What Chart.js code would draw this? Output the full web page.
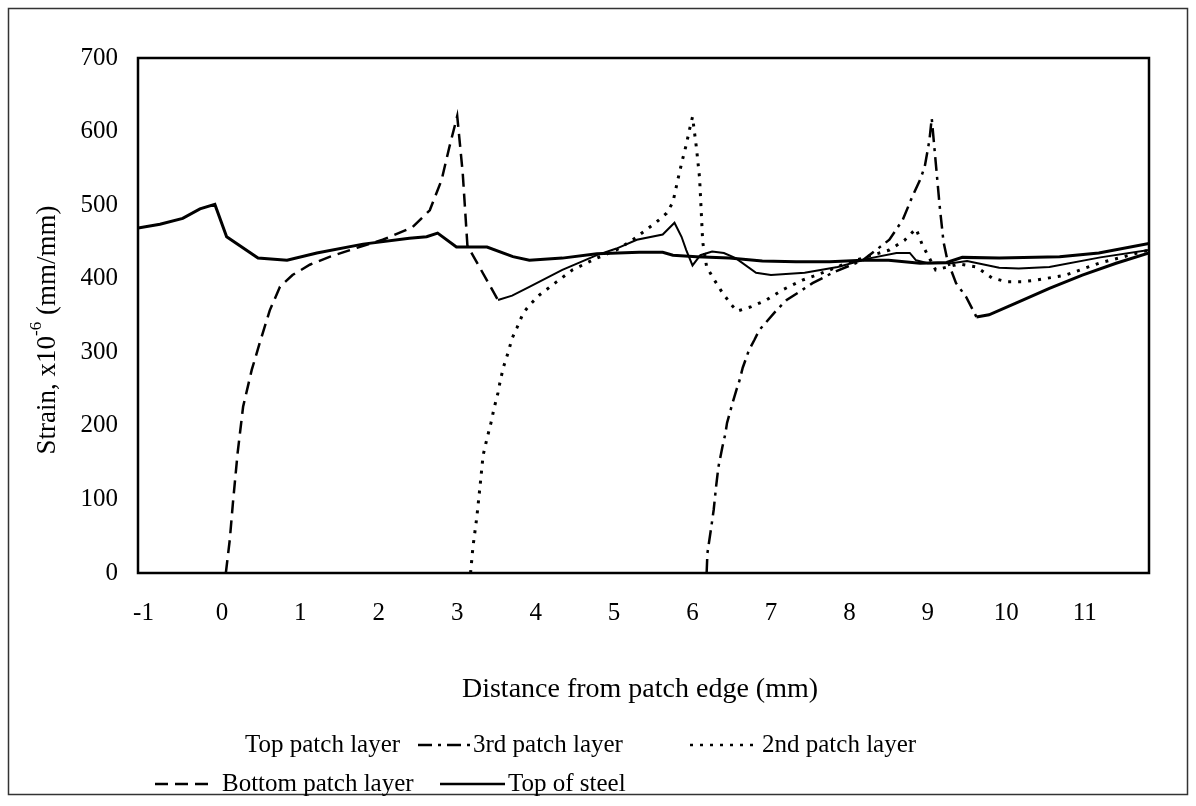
<!DOCTYPE html>
<html>
<head>
<meta charset="utf-8">
<script src="https://cdn.jsdelivr.net/npm/chart.js@4/dist/chart.umd.min.js"></script>
<style>
  html, body { margin: 0; padding: 0; background: #fff; }
</style>
</head>
<body>
<canvas id="strainChart" width="1196" height="806"></canvas>
<script>
// data (x in mm, strain in microstrain)
const bottomX = [0.05, 0.1, 0.14, 0.2, 0.27, 0.38, 0.48, 0.61, 0.74, 0.9, 1.12, 1.38, 1.72, 2.05, 2.43, 2.65, 2.8, 2.9, 3.0, 3.07, 3.13, 3.52, 3.7, 3.92, 4.34, 4.78, 5.03, 5.29, 5.62, 5.77, 5.86, 5.92, 6.0, 6.1, 6.25, 6.4, 6.55, 6.81, 7.0, 7.43, 7.85, 8.27, 8.6, 8.77, 8.85, 9.0, 9.3, 9.5, 9.91, 10.16, 10.55, 11.2, 11.82]
const bottomY = [0, 45, 95, 163, 226, 276, 312, 357, 389, 405, 419, 430, 442, 453, 470, 493, 534, 579, 621, 544, 445, 371, 377, 389, 412, 432, 441, 453, 460, 476, 457, 439, 418, 432, 437, 435, 428, 408, 405, 408, 416, 428, 435, 435, 425, 421, 421, 424, 415, 414, 416, 429, 439]

const secondX = [3.17, 3.2, 3.25, 3.29, 3.33, 3.38, 3.43, 3.47, 3.52, 3.55, 3.59, 3.65, 3.7, 3.76, 3.84, 3.92, 4.05, 4.27, 4.47, 4.78, 5.03, 5.24, 5.54, 5.67, 5.75, 5.82, 5.87, 5.92, 5.96, 6.0, 6.05, 6.09, 6.13, 6.18, 6.28, 6.38, 6.5, 6.57, 6.75, 6.94, 7.15, 7.4, 7.58, 7.75, 7.96, 8.17, 8.51, 8.7, 8.85, 8.93, 9.1, 9.4, 9.62, 9.82, 10.0, 10.2, 10.38, 10.76, 11.18, 11.82]
const secondY = [0, 35, 76, 117, 160, 183, 204, 224, 245, 262, 280, 300, 319, 333, 353, 364, 378, 396, 412, 428, 439, 453, 477, 489, 504, 538, 561, 582, 602, 620, 578, 537, 450, 416, 398, 381, 364, 356, 362, 371, 385, 398, 405, 412, 421, 428, 439, 452, 468, 446, 412, 420, 416, 401, 396, 396, 398, 405, 421, 439]

const thirdX = [6.18, 6.19, 6.24, 6.27, 6.3, 6.33, 6.38, 6.42, 6.44, 6.51, 6.56, 6.6, 6.64, 6.72, 6.79, 6.85, 6.94, 7.07, 7.2, 7.36, 7.53, 7.66, 7.78, 8.17, 8.51, 8.68, 8.8, 8.9, 8.96, 9.02, 9.05, 9.15, 9.2, 9.25, 9.36, 9.49, 9.62, 9.78, 10.13, 10.55, 10.97, 11.4, 11.82]
const thirdY = [0, 27, 63, 86, 117, 144, 171, 190, 204, 231, 249, 262, 279, 303, 317, 330, 341, 357, 371, 382, 394, 401, 408, 425, 453, 480, 511, 534, 552, 588, 618, 500, 450, 425, 394, 375, 348, 351, 367, 387, 405, 421, 435]

const steelX = [-1.07, -0.79, -0.5, -0.28, -0.09, 0.06, 0.46, 0.83, 1.21, 1.8, 2.39, 2.61, 2.75, 2.99, 3.38, 3.71, 3.92, 4.34, 4.78, 5.32, 5.62, 5.75, 6.05, 6.47, 6.89, 7.32, 7.75, 8.17, 8.5, 8.9, 9.24, 9.44, 9.91, 10.68, 11.18, 11.82]
const steelY = [469, 474, 482, 495, 501, 457, 428, 425, 435, 447, 455, 457, 462, 443, 443, 430, 425, 428, 434, 436, 436, 432, 430, 428, 424, 423, 423, 425, 425, 421, 422, 429, 428, 430, 435, 448]

// top patch layer has no visible curve in the figure
const topX = []
const topY = []

const seriesNames = ['Top patch layer', '3rd patch layer', '2nd patch layer', 'Bottom patch layer', 'Top of steel']
const xTicks = [-1, 0, 1, 2, 3, 4, 5, 6, 7, 8, 9, 10, 11]
const yTicks = [0, 100, 200, 300, 400, 500, 600, 700]

function pts(xs, ys) {
  return xs.map((x, i) => ({x: x, y: ys[i]}))
}

const serif = '"Liberation Serif", "Times New Roman", serif'

const dashes = {
  third: [14, 6, 3, 6],
  second: [3, 7],
  bottom: [13, 7],
  steel: []
}

// frames, axis titles and the legend are drawn by hand to get the old excel look
const extras = {
  id: 'extras',
  afterDraw(chart) {
    const ctx = chart.ctx
    const a = chart.chartArea
    ctx.save()

    ctx.strokeStyle = '#000'
    ctx.lineWidth = 2.5
    ctx.setLineDash([])
    ctx.strokeRect(a.left, a.top, a.right - a.left, a.bottom - a.top)

    ctx.strokeStyle = '#333'
    ctx.lineWidth = 1.5
    ctx.strokeRect(8.5, 8.5, 1179, 786)

    ctx.fillStyle = '#000'
    ctx.textBaseline = 'middle'

    // x title
    ctx.font = '28px ' + serif
    ctx.textAlign = 'center'
    ctx.fillText('Distance from patch edge (mm)', 640, 690)

    // y title with superscript
    ctx.translate(48, 330)
    ctx.rotate(-Math.PI / 2)
    const big = '27px ' + serif, small = '17px ' + serif
    const p1 = 'Strain, x10', p2 = '-6', p3 = ' (mm/mm)'
    ctx.font = big
    const w1 = ctx.measureText(p1).width
    const w3 = ctx.measureText(p3).width
    ctx.font = small
    const w2 = ctx.measureText(p2).width
    let x = -(w1 + w2 + w3) / 2
    ctx.textAlign = 'left'
    ctx.font = big
    ctx.fillText(p1, x, 0)
    ctx.font = small
    ctx.fillText(p2, x + w1, -11)
    ctx.font = big
    ctx.fillText(p3, x + w1 + w2, 0)
    ctx.setTransform(1, 0, 0, 1, 0, 0)

    // legend
    const items = [
      {name: seriesNames[0], x1: 0, x2: 0, tx: 245, y: 745, dash: null},
      {name: seriesNames[1], x1: 418, x2: 470, tx: 473, y: 745, dash: dashes.third},
      {name: seriesNames[2], x1: 690, x2: 758, tx: 762, y: 745, dash: dashes.second},
      {name: seriesNames[3], x1: 155, x2: 215, tx: 222, y: 784, dash: dashes.bottom},
      {name: seriesNames[4], x1: 440, x2: 505, tx: 508, y: 784, dash: dashes.steel}
    ]
    ctx.font = '25px ' + serif
    ctx.textAlign = 'left'
    items.forEach(it => {
      if (it.dash) {
        ctx.setLineDash(it.dash)
        ctx.lineWidth = 2.5
        ctx.strokeStyle = '#000'
        ctx.beginPath()
        ctx.moveTo(it.x1, it.y)
        ctx.lineTo(it.x2, it.y)
        ctx.stroke()
      }
      ctx.setLineDash([])
      ctx.fillText(it.name, it.tx, it.y)
    })
    ctx.restore()
  }
}

new Chart('strainChart', {
  type: 'scatter',
  data: {
    datasets: [
      {
        label: seriesNames[0],
        data: pts(topX, topY),
        showLine: true,
        borderColor: '#000',
        borderWidth: 2.5
      },
      {
        label: seriesNames[1],
        data: pts(thirdX, thirdY),
        showLine: true,
        borderColor: '#000',
        borderWidth: 2.5,
        borderDash: dashes.third,
        segment: {
          borderDash: c => c.p0.parsed.x >= 9.6 ? [] : undefined,
          borderWidth: c => c.p0.parsed.x >= 9.6 ? 3 : undefined
        }
      },
      {
        label: seriesNames[2],
        data: pts(secondX, secondY),
        showLine: true,
        borderColor: '#000',
        borderWidth: 3,
        borderDash: dashes.second
      },
      {
        label: seriesNames[3],
        data: pts(bottomX, bottomY),
        showLine: true,
        borderColor: '#000',
        borderWidth: 2.5,
        borderDash: dashes.bottom,
        segment: {
          borderDash: c => c.p0.parsed.x >= 3.5 ? [] : undefined,
          borderWidth: c => c.p0.parsed.x >= 3.5 ? 2 : undefined
        }
      },
      {
        label: seriesNames[4],
        data: pts(steelX, steelY),
        showLine: true,
        borderColor: '#000',
        borderWidth: 3
      }
    ]
  },
  options: {
    responsive: false,
    animation: false,
    elements: { point: { radius: 0 }, line: { tension: 0 } },
    layout: { padding: { top: 58, right: 47, left: 0, bottom: 93 } },
    plugins: {
      legend: { display: false },
      tooltip: { enabled: false }
    },
    scales: {
      x: {
        type: 'linear',
        min: -1.07,
        max: 11.82,
        grid: { display: false, drawTicks: false },
        border: { display: false },
        ticks: {
          autoSkip: false,
          padding: 25,
          color: '#000',
          font: { family: serif, size: 25 }
        },
        afterBuildTicks: s => { s.ticks = xTicks.map(v => ({value: v})) },
        afterFit: s => { s.height = 140 }
      },
      y: {
        min: 0,
        max: 700,
        grid: { display: false, drawTicks: false },
        border: { display: false },
        afterBuildTicks: s => { s.ticks = yTicks.map(v => ({value: v})) },
        afterFit: s => { s.width = 138 },
        ticks: {
          padding: 20,
          color: '#000',
          font: { family: serif, size: 25 }
        }
      }
    }
  },
  plugins: [extras]
})
</script>
</body>
</html>
